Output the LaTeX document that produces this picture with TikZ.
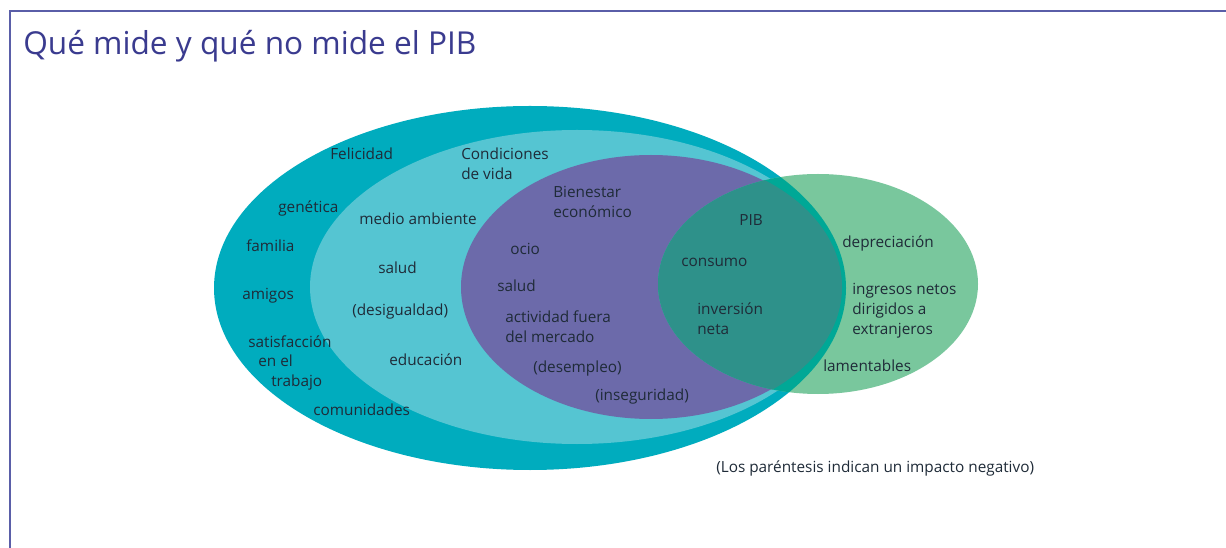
\documentclass[tikz,border=0pt]{standalone}
\usepackage{fontspec}
\setmainfont{Open Sans}
\definecolor{frame}{HTML}{5A5EA8}
\definecolor{titlec}{HTML}{3A3B8F}
\definecolor{outer}{HTML}{00ACBE}
\definecolor{light}{HTML}{55C5D2}
\definecolor{purp}{HTML}{6C6AAA}
\definecolor{grn}{HTML}{79C79D}
\definecolor{dteal}{HTML}{2E918A}
\definecolor{edge}{HTML}{00A896}
\definecolor{txt}{HTML}{1F2B38}
\begin{document}
\begin{tikzpicture}[x=0.75pt,y=-0.75pt,
  lbl/.style={anchor=base west, inner sep=0pt, text=txt, font=\fontsize{11.5}{15}\selectfont}]
\useasboundingbox (0,0) rectangle (1226,548);
\fill[white] (0,0) rectangle (1226,548);
% frame
\draw[frame, line width=1.6pt] (10,548) -- (10,11) -- (1226,11);
% title
\node[anchor=base west, inner sep=0pt, text=titlec, font=\fontsize{23.7}{28}\selectfont] (title) at (23,55) {Qué mide y qué no mide el PIB};
% ellipses
\fill[outer] (530,288) ellipse [x radius=316*0.75pt, y radius=182*0.75pt];
\fill[light] (577,287) ellipse [x radius=267*0.75pt, y radius=157*0.75pt];
\fill[purp] (651,287) ellipse [x radius=190*0.75pt, y radius=132*0.75pt];
\fill[grn] (818,284) ellipse [x radius=160*0.75pt, y radius=110*0.75pt];
\begin{scope}
  \clip (818,284) ellipse [x radius=160*0.75pt, y radius=110*0.75pt];
  \fill[edge] (530,288) ellipse [x radius=316*0.75pt, y radius=182*0.75pt];
  \fill[dteal] (651,287) ellipse [x radius=191*0.75pt, y radius=133*0.75pt];
\end{scope}
% labels
\node[lbl] (felicidad) at (330,160) {Felicidad};
\node[lbl] (cond1) at (461,160) {Condiciones};
\node[lbl] (cond2) at (461,180) {de vida};
\node[lbl] (genetica) at (278,213) {genética};
\node[lbl] (medio) at (359,225) {medio ambiente};
\node[lbl] (bien1) at (553,198) {Bienestar};
\node[lbl] (bien2) at (553,218) {económico};
\node[lbl] (familia) at (246,252) {familia};
\node[lbl] (pib) at (739,226) {PIB};
\node[lbl] (deprec) at (842,248) {depreciación};
\node[lbl] (ocio) at (510,255) {ocio};
\node[lbl] (consumo) at (681,267) {consumo};
\node[lbl] (salud1) at (378,274) {salud};
\node[lbl] (salud2) at (497,292) {salud};
\node[lbl] (amigos) at (242,300) {amigos};
\node[lbl] (ing1) at (852,295) {ingresos netos};
\node[lbl] (ing2) at (852,315) {dirigidos a};
\node[lbl] (ing3) at (852,335) {extranjeros};
\node[lbl] (desig) at (352,316) {(desigualdad)};
\node[lbl] (inv1) at (697,315) {inversión};
\node[lbl] (inv2) at (697,335) {neta};
\node[lbl] (act1) at (505,323) {actividad fuera};
\node[lbl] (act2) at (505,343) {del mercado};
\node[lbl] (sat1) at (248,348) {satisfacción};
\node[lbl] (sat2) at (258,367) {en el};
\node[lbl] (sat3) at (271,386) {trabajo};
\node[lbl] (educ) at (389,365) {educación};
\node[lbl] (desem) at (533,373) {(desempleo)};
\node[lbl] (lament) at (823,372) {lamentables};
\node[lbl] (inseg) at (595,400) {(inseguridad)};
\node[lbl] (comun) at (313,415) {comunidades};
\node[lbl] (nota) at (716,472) {(Los paréntesis indican un impacto negativo)};
\end{tikzpicture}
\end{document}
